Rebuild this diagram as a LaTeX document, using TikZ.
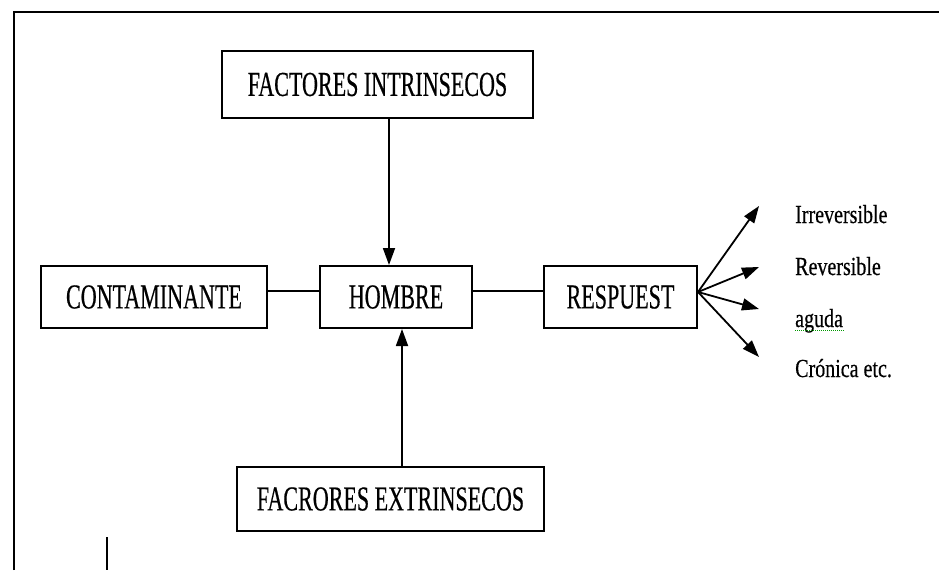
\documentclass[tikz,border=0pt]{standalone}
\usepackage{fontspec}
\usetikzlibrary{arrows.meta}
\newfontfamily\boxfont{Liberation Serif}[FakeStretch=0.63,FakeBold=0.4]
\newfontfamily\labfont{Liberation Serif}[FakeStretch=0.77,FakeBold=0.4]
\begin{document}
\begin{tikzpicture}[x=1pt,y=-1pt,
  box/.style={draw,line width=2pt,inner sep=0pt,font=\boxfont\fontsize{35}{40}\selectfont},
  link/.style={line width=2pt},
  arr/.style={line width=1.8pt,-{Triangle[length=17pt,width=12pt]}},
  lab/.style={anchor=base west,inner sep=0pt,font=\labfont\fontsize{26}{30}\selectfont}]
  \useasboundingbox (0,0) rectangle (939,570);
  % page frame (top and left edges) and the stray rule at the foot
  \draw[line width=2.4pt] (14,570) -- (14,12) -- (939,12);
  \draw[line width=2pt] (107,537) -- (107,570);

  % boxes
  \node[box,minimum width=311pt,minimum height=67pt] (fi) at (377.5,84.5) {FACTORES INTRINSECOS};
  \node[box,minimum width=226pt,minimum height=62pt] (cont) at (154,297) {CONTAMINANTE};
  \node[box,minimum width=152pt,minimum height=62pt] (hom) at (396,297) {HOMBRE};
  \node[box,minimum width=153pt,minimum height=62pt] (resp) at (620.5,297) {RESPUEST};
  \node[box,minimum width=307pt,minimum height=64pt] (fe) at (390.5,499) {FACRORES EXTRINSECOS};

  % horizontal links
  \draw[link] ([yshift=6pt]cont.east) -- ([yshift=6pt]hom.west);
  \draw[link] ([yshift=6pt]hom.east) -- ([yshift=6pt]resp.west);

  % vertical arrows into HOMBRE
  \coordinate (ta) at (389,0);
  \coordinate (ba) at (402,0);
  \draw[arr] (fi.south -| ta) -- (hom.north -| ta);
  \draw[arr] (fe.north -| ba) -- (hom.south -| ba);

  % fan of responses
  \coordinate (fo) at ([yshift=5pt]resp.east);
  \coordinate (t1) at (759,206);
  \coordinate (t2) at (759,267);
  \coordinate (t3) at (759,309);
  \coordinate (t4) at (759,357);
  \foreach \t in {t1,t2,t3,t4} \draw[arr] (fo) -- (\t);

  \node[lab] (l1) at (795,223) {Irreversible};
  \node[lab] (l2) at (795,275) {Reversible};
  \node[lab] (l3) at (795,327) {aguda};
  \node[lab] (l4) at (795,377) {Crónica etc.};
  \draw[green!60!black,line width=1pt,densely dotted] ([yshift=-3pt]l3.base west) -- ([yshift=-3pt]l3.base east);
\end{tikzpicture}
\end{document}
